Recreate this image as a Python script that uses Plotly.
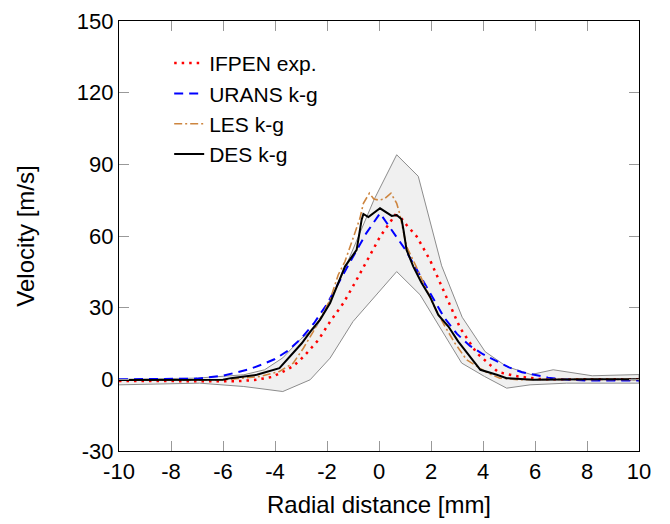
import plotly.graph_objects as go

# Uncertainty band (grey envelope)
band_upper_x = [-10, -7, -5.2, -4.4, -3.7, -3.0, -2.4, -2.0, -1.5, -0.2, 0.68, 1.51, 2.41, 3.2, 4.08, 4.9, 5.85, 6.7, 8.2, 10]
band_upper_y = [0.0, 0.5, 1.9, 4.0, 9.0, 17.0, 22.0, 30.5, 41.6, 75.0, 94.0, 85.0, 47.5, 26.0, 11.6, 5.4, 2.0, 4.0, 1.5, 2.0]
band_lower_x = [-10, -6.9, -5.2, -3.7, -2.65, -1.88, -1.0, 0.0, 0.68, 1.58, 2.4, 3.18, 4.06, 4.91, 5.81, 7.22, 10]
band_lower_y = [-2.3, -1.6, -3.0, -5.1, -0.2, 8.9, 24.2, 36.7, 45.1, 35.4, 20.5, 6.8, 1.2, -3.7, -2.3, -1.6, -1.6]

# IFPEN experiment
ifpen_x = [-10, -8, -6, -5.5, -4.8, -4.1, -3.55, -3.3, -2.9, -2.33, -1.88, -1.37, -0.9, -0.54, 0.04, 0.62, 0.81, 1.06, 1.45, 1.96, 2.47, 2.86, 3.12, 3.76, 4.59, 5.36, 6.2, 7, 8, 9, 10]
ifpen_y = [-0.7, -0.7, -0.8, -0.8, -0.3, 1.0, 4.0, 5.5, 9.5, 16.5, 24.2, 31.9, 40.9, 47.9, 59.7, 68.8, 68.1, 64.6, 59.8, 50.0, 37.4, 27.7, 21.5, 11.0, 3.0, 1.2, 0.1, 0.0, 0.0, 0.0, 0.0]

# URANS k-g
urans_x = [-10, -8, -7, -6, -5, -4.5, -4, -3.5, -3, -2.5, -2, -1.5, -1, -0.5, 0.04, 0.5, 1, 1.5, 2, 2.5, 3, 3.5, 4, 4.5, 5, 5.5, 6, 6.5, 7, 8, 10]
urans_y = [0.0, 0.0, 0.3, 1.5, 4.2, 6.2, 8.5, 12.0, 17.0, 23.5, 31.5, 41.5, 51.5, 61.0, 69.5, 62.5, 54.5, 45.0, 35.5, 26.0, 19.0, 14.0, 10.5, 7.6, 5.0, 3.0, 1.8, 0.7, 0.0, -0.5, -0.5]

# LES k-g
les_x = [-10, -8, -6, -4.58, -3.83, -3.3, -2.91, -2.53, -2.2, -1.88, -1.57, -1.31, -0.73, -0.6, -0.37, -0.2, 0.0, 0.2, 0.46, 0.68, 0.79, 1.06, 1.43, 1.71, 2.1, 2.54, 2.92, 3.37, 3.76, 4.2, 4.65, 5.4, 6.5, 8, 10]
les_y = [-0.3, -0.3, -0.2, 1.2, 3.3, 6.8, 13.0, 20.0, 27.0, 33.3, 43.7, 49.3, 67.5, 73.7, 77.9, 75.5, 75.0, 75.5, 77.9, 73.7, 69.5, 55.6, 47.2, 40.3, 31.0, 22.1, 15.1, 8.2, 5.4, 2.5, 0.5, -0.2, 0.0, 0.0, 0.0]

# DES k-g
des_x = [-10, -8, -6, -5.7, -4.7, -3.83, -3.42, -2.97, -2.59, -2.27, -1.88, -1.63, -1.31, -0.86, -0.67, -0.6, -0.41, 0.04, 0.49, 0.68, 0.87, 0.95, 1.06, 1.32, 1.64, 1.96, 2.28, 2.67, 3.05, 3.5, 3.9, 4.53, 4.91, 5.93, 7, 8, 10]
des_y = [-0.3, -0.3, -0.2, 0.5, 1.9, 4.7, 9.5, 15.1, 20.7, 24.9, 31.9, 38.8, 47.2, 54.2, 66.7, 69.2, 67.9, 71.6, 68.4, 68.8, 67.0, 62.0, 54.2, 47.2, 40.3, 34.6, 27.0, 22.1, 15.8, 9.5, 4.0, 1.9, 0.5, -0.2, 0.0, 0.0, 0.0]

x_ticks = list(range(-10, 11, 2))
y_ticks = list(range(-30, 151, 30))

FONT = "Liberation Sans, Arial, Helvetica, sans-serif"

fig = go.Figure()

fig.add_trace(go.Scatter(
    x=band_upper_x + band_lower_x[::-1],
    y=band_upper_y + band_lower_y[::-1],
    fill="toself", fillcolor="#f0f0f0",
    line=dict(color="#8c8c8c", width=1),
    mode="lines", showlegend=False, hoverinfo="skip",
))

fig.add_trace(go.Scatter(x=ifpen_x, y=ifpen_y, mode="lines", name="IFPEN exp.",
                         line=dict(color="#ff0000", width=2.5, dash="2.5px,5px")))
fig.add_trace(go.Scatter(x=urans_x, y=urans_y, mode="lines", name="URANS k-g",
                         line=dict(color="#0000ff", width=2, dash="9px,6px")))
fig.add_trace(go.Scatter(x=les_x, y=les_y, mode="lines", name="LES k-g",
                         line=dict(color="#cd853f", width=1.6, dash="8px,3px,2px,3px")))
fig.add_trace(go.Scatter(x=des_x, y=des_y, mode="lines", name="DES k-g",
                         line=dict(color="#000000", width=2)))

axis_common = dict(
    showgrid=False, zeroline=False, automargin=False,
    showline=True, linecolor="#000000", linewidth=1.3, mirror="allticks",
    ticks="inside", ticklen=10, tickcolor="#999999", tickwidth=1,
    tickfont=dict(family=FONT, size=22, color="#000000"),
)

fig.update_layout(
    width=670, height=524,
    margin=dict(l=119, r=31, t=21, b=73),
    paper_bgcolor="white", plot_bgcolor="white",
    font=dict(family=FONT, color="#000000"),
    xaxis=dict(range=[-10, 10], tickvals=x_ticks, ticktext=[str(v) for v in x_ticks],
               ticklabelstandoff=0,
               title=dict(text="Radial distance [mm]", font=dict(family=FONT, size=24), standoff=13),
               **axis_common),
    yaxis=dict(range=[-30, 150], tickvals=y_ticks, ticktext=[str(v) for v in y_ticks],
               title=dict(text="Velocity [m/s]", font=dict(family=FONT, size=24), standoff=35),
               **axis_common),
    legend=dict(x=0.0965, y=0.949, xanchor="left", yanchor="top",
                bgcolor="rgba(0,0,0,0)", borderwidth=0,
                font=dict(family=FONT, size=21, color="#000000")),
)

fig.write_html("out.html")
